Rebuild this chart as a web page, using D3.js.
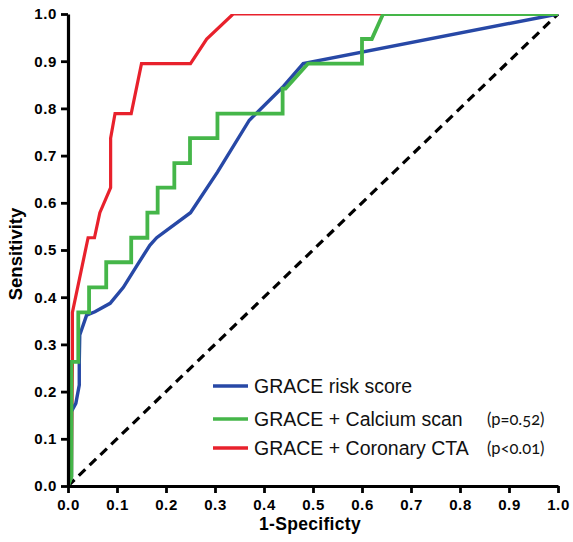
<!DOCTYPE html>
<html>
<head>
<meta charset="utf-8">
<script src="https://cdn.jsdelivr.net/npm/d3@7"></script>
<style>
  html, body { margin: 0; padding: 0; background: #fff; }
  svg { display: block; }
</style>
</head>
<body>
<div id="chart"></div>
<script>
// ---- data ----
const xTicks = [0, 0.1, 0.2, 0.3, 0.4, 0.5, 0.6, 0.7, 0.8, 0.9, 1.0];
const yTicks = [0, 0.1, 0.2, 0.3, 0.4, 0.5, 0.6, 0.7, 0.8, 0.9, 1.0];

const seriesNames = ["GRACE risk score", "GRACE + Calcium scan", "GRACE + Coronary CTA"];
const seriesPValues = ["", "(p=0.52)", "(p<0.01)"];
const seriesColors = ["#2748a6", "#45b649", "#e8212c"];

const riskFpr = [0, 0.007, 0.007, 0.016, 0.023, 0.023, 0.024, 0.038, 0.055, 0.086, 0.113, 0.14, 0.167, 0.181, 0.25, 0.305, 0.37, 0.44, 0.48, 1];
const riskTpr = [0, 0.02, 0.158, 0.175, 0.214, 0.263, 0.32, 0.362, 0.369, 0.387, 0.421, 0.466, 0.51, 0.526, 0.579, 0.665, 0.775, 0.847, 0.895, 1];

const calciumFpr = [0, 0.007, 0.007, 0.021, 0.021, 0.043, 0.043, 0.078, 0.078, 0.129, 0.129, 0.162, 0.162, 0.183, 0.183, 0.217, 0.217, 0.249, 0.249, 0.305, 0.305, 0.438, 0.438, 0.444, 0.49, 0.6, 0.6, 0.62, 0.643, 1];
const calciumTpr = [0, 0.02, 0.263, 0.263, 0.368, 0.368, 0.421, 0.421, 0.474, 0.474, 0.526, 0.526, 0.579, 0.579, 0.632, 0.632, 0.684, 0.684, 0.737, 0.737, 0.789, 0.789, 0.842, 0.842, 0.895, 0.895, 0.947, 0.947, 1, 1];

const ctaFpr = [0, 0.007, 0.009, 0.009, 0.041, 0.054, 0.065, 0.087, 0.087, 0.096, 0.129, 0.15, 0.25, 0.283, 0.337, 1];
const ctaTpr = [0, 0.02, 0.263, 0.368, 0.526, 0.526, 0.579, 0.632, 0.737, 0.789, 0.789, 0.895, 0.895, 0.947, 1, 1];

const diagonal = [0, 1];

// ---- layout ----
const W = 573, H = 542;
const mLeft = 68, mRight = 558, mTop = 14, mBottom = 486;

const svg = d3.select("#chart").append("svg")
  .attr("width", W).attr("height", H);

const x = d3.scaleLinear().domain([0, 1]).range([mLeft, mRight]);
const y = d3.scaleLinear().domain([0, 1]).range([mBottom, mTop]);

svg.append("defs").append("clipPath").attr("id", "plotclip")
  .append("rect")
  .attr("x", x(0)).attr("y", y(1))
  .attr("width", x(1) - x(0) + 2).attr("height", y(0) - y(1));

const plot = svg.append("g").attr("clip-path", "url(#plotclip)");

// diagonal reference line
plot.append("path")
  .attr("d", d3.line().x(d => x(d)).y(d => y(d))(diagonal))
  .attr("fill", "none")
  .attr("stroke", "#000")
  .attr("stroke-width", 3.2)
  .attr("stroke-dasharray", "9,6");

const line = d3.line().x(d => x(d[0])).y(d => y(d[1]));
const zip = (a, b) => a.map((v, i) => [v, b[i]]);

const curves = [
  { pts: zip(ctaFpr, ctaTpr), color: seriesColors[2], w: 3.2 },
  { pts: zip(riskFpr, riskTpr), color: seriesColors[0], w: 3.4 },
  { pts: zip(calciumFpr, calciumTpr), color: seriesColors[1], w: 3.8 }
];

curves.forEach(c => {
  plot.append("path")
    .attr("d", line(c.pts))
    .attr("fill", "none")
    .attr("stroke", c.color)
    .attr("stroke-width", c.w)
    .attr("stroke-linejoin", "miter");
});

// ---- axes ----
const fmt = d3.format(".1f");
const xAxis = svg.append("g")
  .attr("transform", `translate(0,${mBottom})`)
  .call(d3.axisBottom(x).tickValues(xTicks).tickFormat(fmt).tickSize(7).tickSizeOuter(0).tickPadding(4));
const yAxis = svg.append("g")
  .attr("transform", `translate(${mLeft},0)`)
  .call(d3.axisLeft(y).tickValues(yTicks).tickFormat(fmt).tickSize(7).tickSizeOuter(0).tickPadding(4));

[xAxis, yAxis].forEach(a => {
  a.select(".domain").attr("stroke", "#000").attr("stroke-width", 3.2);
  a.selectAll(".tick line").attr("stroke", "#000").attr("stroke-width", 2.8);
  a.selectAll(".tick text")
    .attr("fill", "#000")
    .style("font-family", "'Liberation Sans', Arial, sans-serif")
    .style("font-weight", "bold")
    .style("font-size", "15px")
    .style("letter-spacing", "0.6px");
});
xAxis.selectAll(".tick text").attr("dy", "0.85em");

// axis titles
svg.append("text")
  .attr("x", (mLeft + mRight) / 2 - 3)
  .attr("y", 530)
  .attr("text-anchor", "middle")
  .style("font-family", "'Liberation Sans', Arial, sans-serif")
  .style("font-weight", "bold")
  .style("font-size", "17.5px")
  .style("letter-spacing", "0.3px")
  .text("1-Specificty");

svg.append("text")
  .attr("transform", `translate(22,254) rotate(-90)`)
  .attr("text-anchor", "middle")
  .style("font-family", "'Liberation Sans', Arial, sans-serif")
  .style("font-weight", "bold")
  .style("font-size", "18.5px")
  .text("Sensitivity");

// ---- legend ----
const legendY = [386, 419, 448];
const legend = svg.append("g");
seriesNames.forEach((name, i) => {
  legend.append("line")
    .attr("x1", 213).attr("x2", 248)
    .attr("y1", legendY[i]).attr("y2", legendY[i])
    .attr("stroke", seriesColors[i])
    .attr("stroke-width", 3.5);
  legend.append("text")
    .attr("x", 254).attr("y", legendY[i])
    .attr("dy", "0.36em")
    .style("font-family", "'Liberation Sans', Arial, sans-serif")
    .style("font-size", "19.5px")
    .attr("fill", "#111")
    .text(name);
  if (seriesPValues[i]) {
    legend.append("text")
      .attr("x", 487).attr("y", legendY[i])
      .attr("dy", "0.36em")
      .style("font-family", "Lato, 'Open Sans', sans-serif")
      .style("font-size", "16.5px")
      .style("font-variant-numeric", "oldstyle-nums")
      .attr("fill", "#111")
      .text(seriesPValues[i]);
  }
});
</script>
</body>
</html>
